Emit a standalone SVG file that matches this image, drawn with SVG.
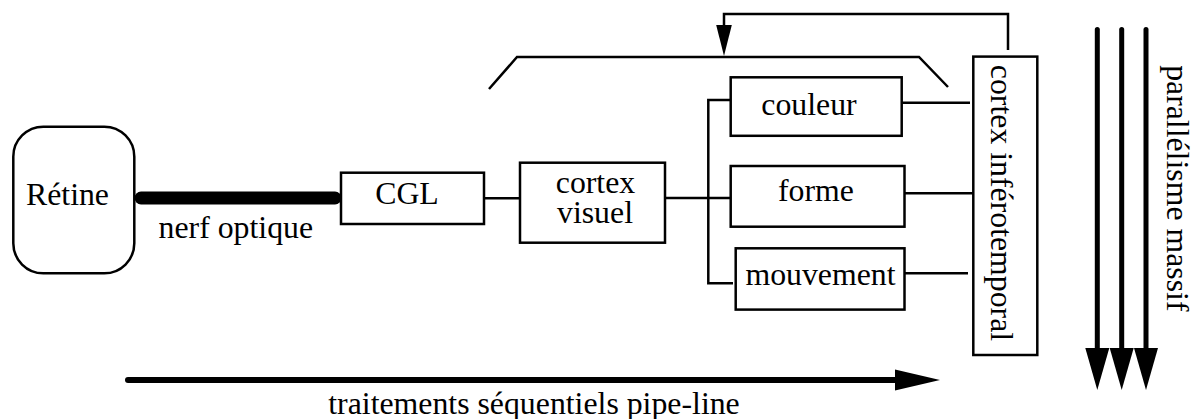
<svg xmlns="http://www.w3.org/2000/svg" width="1198" height="419" viewBox="0 0 1198 419">
  <style>
    .box { fill: #ffffff; stroke: #000000; stroke-width: 2.5; }
    .lbl { font-family: "Liberation Serif", "Times New Roman", serif; font-size: 31.8px; fill: #000000; }
    .mid { text-anchor: middle; }
    .wire { fill: none; stroke: #000000; stroke-width: 2.5; }
    .nerve { fill: none; stroke: #000000; stroke-width: 13; stroke-linecap: round; }
    .flow { fill: none; stroke: #000000; stroke-width: 6; stroke-linecap: round; }
    .par { fill: none; stroke: #000000; stroke-width: 5; stroke-linecap: round; }
  </style>
  <defs>
    <marker id="headFeedback" markerUnits="userSpaceOnUse" viewBox="0 -8 31 16" markerWidth="31" markerHeight="16" refX="1" refY="0" orient="auto" overflow="visible">
      <path d="M0,-7.8 L31,0 L0,7.8 Z" fill="#000000"/>
    </marker>
    <marker id="headFlow" markerUnits="userSpaceOnUse" viewBox="0 -11 45 22" markerWidth="45" markerHeight="22" refX="1" refY="0" orient="auto" overflow="visible">
      <path d="M0,-10.5 L45,0 L0,10.5 Z" fill="#000000"/>
    </marker>
    <marker id="headPar" markerUnits="userSpaceOnUse" viewBox="0 -12 42 24" markerWidth="42" markerHeight="24" refX="1" refY="0" orient="auto" overflow="visible">
      <path d="M0,-12 L42,0 L0,12 Z" fill="#000000"/>
    </marker>
  </defs>

  <!-- connectors -->
  <g id="connectors">
    <!-- optic nerve -->
    <line class="nerve" x1="141" y1="198" x2="335" y2="198"/>
    <!-- CGL to visual cortex -->
    <line class="wire" x1="484" y1="198.3" x2="520" y2="198.3"/>
    <!-- visual cortex to the three pathways -->
    <line class="wire" x1="665" y1="198" x2="731" y2="198"/>
    <path class="wire" d="M731,100 H708.3 V283.3 H733"/>
    <!-- pathways to inferotemporal cortex -->
    <line class="wire" x1="902" y1="102.7" x2="970" y2="102.7"/>
    <line class="wire" x1="904" y1="193.3" x2="973" y2="193.3"/>
    <line class="wire" x1="904" y1="273.3" x2="968" y2="273.3"/>
    <!-- feedback loop -->
    <path class="wire" d="M1008,50 V14 H724 V26" marker-end="url(#headFeedback)"/>
    <!-- sequential pipeline arrow -->
    <line class="flow" x1="128" y1="380" x2="896" y2="380" marker-end="url(#headFlow)"/>
    <!-- massive parallelism arrows -->
    <line class="par" x1="1097.3" y1="29.5" x2="1097.3" y2="349" marker-end="url(#headPar)"/>
    <line class="par" x1="1121.7" y1="29.5" x2="1121.7" y2="349" marker-end="url(#headPar)"/>
    <line class="par" x1="1146" y1="29.5" x2="1146" y2="349" marker-end="url(#headPar)"/>
  </g>

  <!-- bracket grouping the cortical stages -->
  <g id="bracket">
    <path class="wire" d="M489,89 L517,57 H919 L948,87"/>
  </g>

  <g id="retine">
    <rect class="box" x="13.3" y="126.7" width="121" height="146.6" rx="30" ry="30"/>
    <text class="lbl mid" x="67.5" y="205">Rétine</text>
  </g>

  <g id="nerf-label">
    <text class="lbl mid" x="235.8" y="238">nerf optique</text>
  </g>

  <g id="cgl">
    <rect class="box" x="341" y="172.7" width="143" height="51.3"/>
    <text class="lbl mid" x="407" y="204">CGL</text>
  </g>

  <g id="cortex-visuel">
    <rect class="box" x="520" y="162.7" width="145" height="80"/>
    <text class="lbl mid" x="595.5" y="193.3">cortex</text>
    <text class="lbl mid" x="595" y="223.3">visuel</text>
  </g>

  <g id="couleur">
    <rect class="box" x="730.7" y="77.3" width="171" height="58.5"/>
    <text class="lbl mid" x="809" y="115">couleur</text>
  </g>

  <g id="forme">
    <rect class="box" x="730.7" y="166" width="173.8" height="60.7"/>
    <text class="lbl mid" x="816" y="201">forme</text>
  </g>

  <g id="mouvement">
    <rect class="box" x="735.7" y="248.3" width="168.8" height="61.3"/>
    <text class="lbl mid" x="820.5" y="284.5">mouvement</text>
  </g>

  <g id="cortex-inferotemporal">
    <rect class="box" x="973.3" y="56.6" width="64" height="298.4"/>
    <text class="lbl mid" transform="translate(991,203) rotate(90)" x="0" y="0">cortex inférotemporal</text>
  </g>

  <g id="pipeline-label">
    <text class="lbl mid" x="534" y="414">traitements séquentiels pipe-line</text>
  </g>

  <g id="parallelisme-label">
    <text class="lbl mid" transform="translate(1167,188.3) rotate(90)" x="0" y="0">parallélisme massif</text>
  </g>
</svg>
